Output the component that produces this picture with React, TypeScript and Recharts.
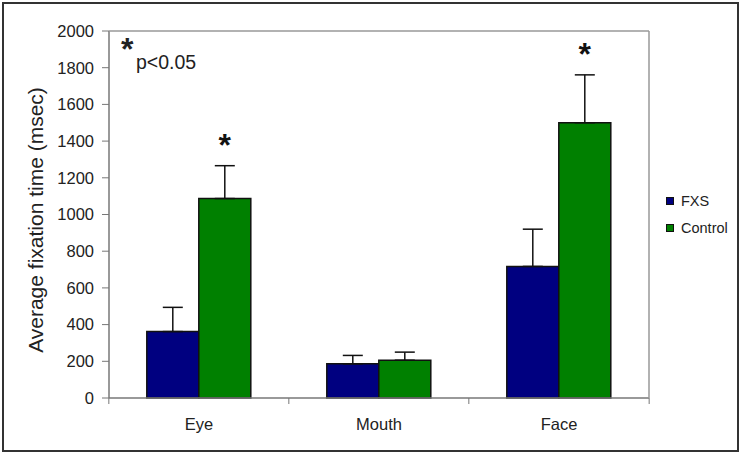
import React from 'react';
import { BarChart, Bar, XAxis, YAxis, ErrorBar, LabelList, Legend } from 'recharts';

const categories = ['Eye', 'Mouth', 'Face'];
const fxsValues = [362, 186, 717];
const fxsErrors = [132, 46, 203];
const controlValues = [1087, 206, 1500];
const controlErrors = [179, 44, 261];
const significant = [true, false, true];
const yTicks = [0, 200, 400, 600, 800, 1000, 1200, 1400, 1600, 1800, 2000];

const data = categories.map((name, i) => ({
    name,
    fxs: fxsValues[i],
    fxsErr: [0, fxsErrors[i]],
    control: controlValues[i],
    controlErr: [0, controlErrors[i]],
}));

const FONT = '"Liberation Sans", Arial, sans-serif';
const PLOT_LEFT = 109;
const PLOT_RIGHT = 650;
const PLOT_TOP = 30;
const PLOT_BOTTOM = 398;
const X_AXIS_H = 30;
const BAND = (PLOT_RIGHT - PLOT_LEFT) / categories.length;

const XTick = (props: any) => {
    const { x, payload, index } = props;
    const left = x - BAND / 2;
    return (
        <g>
            <line x1={left} y1={PLOT_BOTTOM} x2={left} y2={PLOT_BOTTOM + 6} stroke="#777" strokeWidth={1} />
            {index === categories.length - 1 && (
                <line
                    x1={x + BAND / 2}
                    y1={PLOT_BOTTOM}
                    x2={x + BAND / 2}
                    y2={PLOT_BOTTOM + 6}
                    stroke="#777"
                    strokeWidth={1}
                />
            )}
            <text x={x} y={PLOT_BOTTOM + 32} textAnchor="middle" fontSize={16.5} fill="#222" fontFamily={FONT}>
                {payload.value}
            </text>
        </g>
    );
};

// significance star sits a fixed distance above the control error bar
const StarLabel = (props: any) => {
    const { x, y, width, height, value, index } = props;
    if (!significant[index]) return null;
    const errPx = (controlErrors[index] * height) / value;
    return (
        <text
            x={x + width / 2}
            y={y - errPx - 10}
            textAnchor="middle"
            fontSize={32}
            fontWeight="bold"
            fill="#111"
            fontFamily={FONT}
        >
            *
        </text>
    );
};

const YLabel = () => (
    <text
        x={37}
        y={220}
        transform="rotate(-90, 37, 220)"
        textAnchor="middle"
        dominantBaseline="middle"
        fontSize={21}
        fill="#222"
        fontFamily={FONT}
    >
        Average fixation time (msec)
    </text>
);

const LegendContent = () => (
    <div style={{ fontFamily: FONT, fontSize: 14.5, color: '#222', textAlign: 'left' }}>
        {[
            { label: 'FXS', color: '#000080' },
            { label: 'Control', color: '#008000' },
        ].map((item) => (
            <div key={item.label} style={{ display: 'flex', alignItems: 'center', height: 26.5 }}>
                <span
                    style={{
                        display: 'inline-block',
                        width: 6,
                        height: 6,
                        background: item.color,
                        border: '1px solid #111',
                        marginRight: 7,
                    }}
                />
                {item.label}
            </div>
        ))}
    </div>
);

export default function App() {
    return (
        <div
            style={{
                position: 'absolute',
                left: 0,
                top: 0,
                width: 742,
                height: 456,
                background: '#fff',
            }}
        >
            <div
                style={{
                    position: 'absolute',
                    left: 2,
                    top: 2,
                    width: 733,
                    height: 446,
                    border: '2px solid #333',
                }}
            />
            <BarChart
                width={742}
                height={456}
                data={data}
                margin={{ top: PLOT_TOP, right: 742 - PLOT_RIGHT, bottom: 456 - PLOT_BOTTOM - X_AXIS_H, left: 0 }}
                barCategoryGap="21%"
                barGap={0}
            >
                <XAxis
                    dataKey="name"
                    height={X_AXIS_H}
                    axisLine={{ stroke: '#777', strokeWidth: 1.5 }}
                    tickLine={false}
                    tick={<XTick />}
                    interval={0}
                />
                <YAxis
                    yAxisId="left"
                    width={PLOT_LEFT}
                    domain={[0, 2000]}
                    ticks={yTicks}
                    interval={0}
                    axisLine={{ stroke: '#777', strokeWidth: 1.5 }}
                    tickLine={{ stroke: '#777' }}
                    tickSize={7}
                    tickMargin={8}
                    tick={{ fill: '#222', fontSize: 16.5, fontFamily: FONT }}
                    label={<YLabel />}
                />
                <YAxis
                    yAxisId="right"
                    orientation="right"
                    width={1}
                    domain={[0, 2000]}
                    tick={false}
                    tickLine={false}
                    axisLine={{ stroke: '#999', strokeWidth: 1.5 }}
                />
                <XAxis
                    xAxisId="top"
                    orientation="top"
                    dataKey="name"
                    height={1}
                    tick={false}
                    tickLine={false}
                    axisLine={{ stroke: '#999', strokeWidth: 1.5 }}
                />
                <Legend
                    layout="horizontal"
                    align="center"
                    verticalAlign="middle"
                    content={<LegendContent />}
                    wrapperStyle={{ left: 666, top: 188, width: 75 }}
                />
                <Bar
                    yAxisId="left"
                    dataKey="fxs"
                    name="FXS"
                    fill="#000080"
                    stroke="#111"
                    strokeWidth={1.5}
                    isAnimationActive={false}
                >
                    <ErrorBar dataKey="fxsErr" width={10} stroke="#111" strokeWidth={1.5} direction="y" />
                </Bar>
                <Bar
                    yAxisId="left"
                    dataKey="control"
                    name="Control"
                    fill="#008000"
                    stroke="#111"
                    strokeWidth={1.5}
                    isAnimationActive={false}
                >
                    <ErrorBar dataKey="controlErr" width={10} stroke="#111" strokeWidth={1.5} direction="y" />
                    <LabelList dataKey="control" content={<StarLabel />} />
                </Bar>
            </BarChart>
            <div
                style={{
                    position: 'absolute',
                    left: 121,
                    top: 34,
                    fontFamily: FONT,
                    color: '#222',
                }}
            >
                <span style={{ fontSize: 32, fontWeight: 'bold', position: 'absolute', left: 0, top: -3 }}>*</span>
                <span style={{ fontSize: 19.5, position: 'absolute', left: 15, top: 17 }}>p&lt;0.05</span>
            </div>
        </div>
    );
}
